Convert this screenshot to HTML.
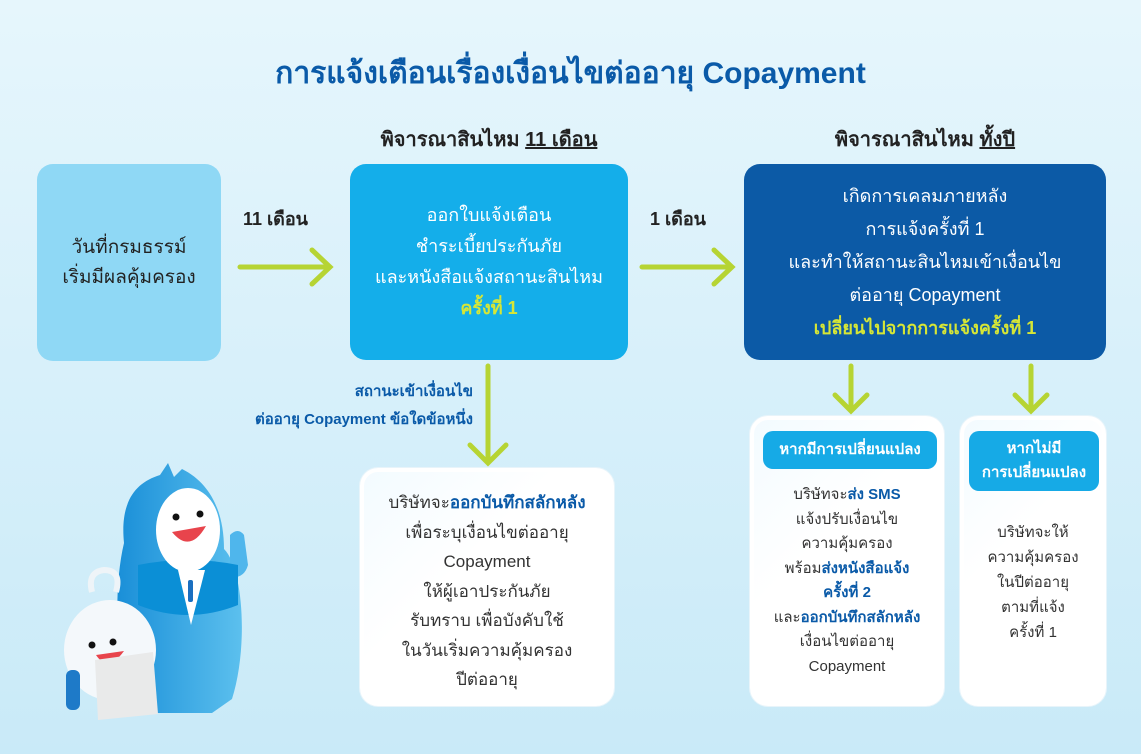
<!DOCTYPE html>
<html><head><meta charset="utf-8"><style>
*{margin:0;padding:0;box-sizing:border-box}
body{width:1141px;height:754px;overflow:hidden;position:relative;background:linear-gradient(#e6f6fc,#c9eaf8);font-family:"Liberation Sans","DejaVu Sans",sans-serif;color:#333}
.a{position:absolute}
.c{text-align:center}
.box{position:absolute;border-radius:16px;display:flex;flex-direction:column;justify-content:center;align-items:center;text-align:center}
.w{position:absolute;background:linear-gradient(135deg,#f3fbff,#fff 40%);border-radius:18px;border:4px solid #fff;box-shadow:0 0 0 1px #e8f4fa}
.pill{position:absolute;background:#16aae6;color:#fff;font-weight:bold;border-radius:10px;text-align:center;font-size:15px;line-height:24px}
.b{color:#0a5aa8;font-weight:bold}
.y{color:#d6e636;font-weight:bold}
</style></head><body>
<div class="a c" style="left:0;width:1141px;top:50px;font-size:30px;font-weight:bold;color:#0a5aa8">การแจ้งเตือนเรื่องเงื่อนไขต่ออายุ Copayment</div>
<div class="a c" style="left:350px;width:278px;top:123px;font-size:20px;font-weight:bold;color:#222">พิจารณาสินไหม <u>11 เดือน</u></div>
<div class="a c" style="left:744px;width:362px;top:123px;font-size:20px;font-weight:bold;color:#222">พิจารณาสินไหม <u>ทั้งปี</u></div>

<div class="box" style="left:37px;top:164px;width:184px;height:197px;background:#8fd8f5;font-size:19px;line-height:30px;color:#222">วันที่กรมธรรม์<br>เริ่มมีผลคุ้มครอง</div>
<div class="box" style="left:350px;top:164px;width:278px;height:196px;background:#14aeea;color:#fff;font-size:18px;line-height:31px">ออกใบแจ้งเตือน<br>ชำระเบี้ยประกันภัย<br>และหนังสือแจ้งสถานะสินไหม<br><span class="y">ครั้งที่ 1</span></div>
<div class="box" style="left:744px;top:164px;width:362px;height:196px;background:#0c5aa6;color:#fff;font-size:18px;line-height:33px">เกิดการเคลมภายหลัง<br>การแจ้งครั้งที่ 1<br>และทำให้สถานะสินไหมเข้าเงื่อนไข<br>ต่ออายุ Copayment<br><span class="y">เปลี่ยนไปจากการแจ้งครั้งที่ 1</span></div>

<div class="a" style="left:243px;top:204px;font-size:18px;font-weight:bold;color:#222">11 เดือน</div>
<div class="a" style="left:650px;top:204px;font-size:18px;font-weight:bold;color:#222">1 เดือน</div>

<svg class="a" style="left:0;top:0" width="1141" height="754">
<g stroke="#b6d433" stroke-width="5" fill="none" stroke-linecap="round">
<path d="M240 267H330M312 250L330 267L312 284"/>
<path d="M642 267H732M714 250L732 267L714 284"/>
<path d="M488 366V462M470 445L488 463L506 445"/>
<path d="M851 366V410M835 395L851 411L867 395"/>
<path d="M1031 366V410M1015 395L1031 411L1047 395"/>
</g>
</svg>

<div class="a" style="right:668px;top:378px;text-align:right;font-size:15px;line-height:28px" ><span class="b">สถานะเข้าเงื่อนไข<br>ต่ออายุ Copayment ข้อใดข้อหนึ่ง</span></div>

<div class="w c" style="left:360px;top:468px;width:254px;height:238px;padding-top:16px;font-size:17px;line-height:29.5px">บริษัทจะ<span class="b">ออกบันทึกสลักหลัง</span><br>เพื่อระบุเงื่อนไขต่ออายุ<br>Copayment<br>ให้ผู้เอาประกันภัย<br>รับทราบ เพื่อบังคับใช้<br>ในวันเริ่มความคุ้มครอง<br>ปีต่ออายุ</div>

<div class="w c" style="left:750px;top:416px;width:194px;height:290px;padding-top:63px;font-size:15px;line-height:24.5px">บริษัทจะ<span class="b">ส่ง SMS</span><br>แจ้งปรับเงื่อนไข<br>ความคุ้มครอง<br>พร้อม<span class="b">ส่งหนังสือแจ้ง<br>ครั้งที่ 2</span><br>และ<span class="b">ออกบันทึกสลักหลัง</span><br>เงื่อนไขต่ออายุ<br>Copayment</div>
<div class="pill" style="left:763px;top:431px;width:174px;height:38px;line-height:38px">หากมีการเปลี่ยนแปลง</div>

<div class="w c" style="left:960px;top:416px;width:146px;height:290px;padding-top:100px;font-size:15px;line-height:25px">บริษัทจะให้<br>ความคุ้มครอง<br>ในปีต่ออายุ<br>ตามที่แจ้ง<br>ครั้งที่ 1</div>
<div class="pill" style="left:969px;top:431px;width:130px;height:60px;padding-top:6px">หากไม่มี<br>การเปลี่ยนแปลง</div>

<!-- mascots -->
<svg class="a" style="left:0;top:0" width="300" height="754">
<defs><linearGradient id="g" x1="0" x2="1"><stop offset="0" stop-color="#1a8fd8"/><stop offset="1" stop-color="#5cc0ee"/></linearGradient></defs>
<path d="M160 475l8-12 6 14 8-8c30 15 42 45 42 80 20 20 24 100 8 150l-20 14h-80c-15-40-20-120 -8-170 -4-40 10-60 36-68z" fill="url(#g)"/>
<path d="M230 535q8-8 14 0l4 30q-4 14-18 12z" fill="#4fb6ec"/>
<path d="M138 565q50-10 100 0l0 40q-50 20-100 0z" fill="#0b8fd6"/>
<ellipse cx="188" cy="530" rx="32" ry="42" fill="#fff"/>
<circle cx="176" cy="517" r="3.5" fill="#111"/><circle cx="200" cy="514" r="3.5" fill="#111"/>
<path d="M172 532q18 22 34 -6z" fill="#e8444c"/>
<path d="M178 570l13 55 14-55z" fill="#fff"/>
<rect x="188" y="580" width="5" height="22" rx="2" fill="#1a6fc0"/>
<path d="M92 592q-5-20 12-22 18 0 12 22" stroke="#eef4f8" stroke-width="6" fill="none"/>
<ellipse cx="110" cy="650" rx="46" ry="50" fill="#f4f8fb"/>
<circle cx="92" cy="645" r="3.5" fill="#111"/><circle cx="113" cy="642" r="3.5" fill="#111"/>
<path d="M96 655q12 18 28 -4z" fill="#e8444c"/>
<rect x="66" y="670" width="14" height="40" rx="6" fill="#1e7ac8"/>
<path d="M95 660l58 -8 5 62-60 6z" fill="#e9eaea"/>
</svg>
</body></html>
